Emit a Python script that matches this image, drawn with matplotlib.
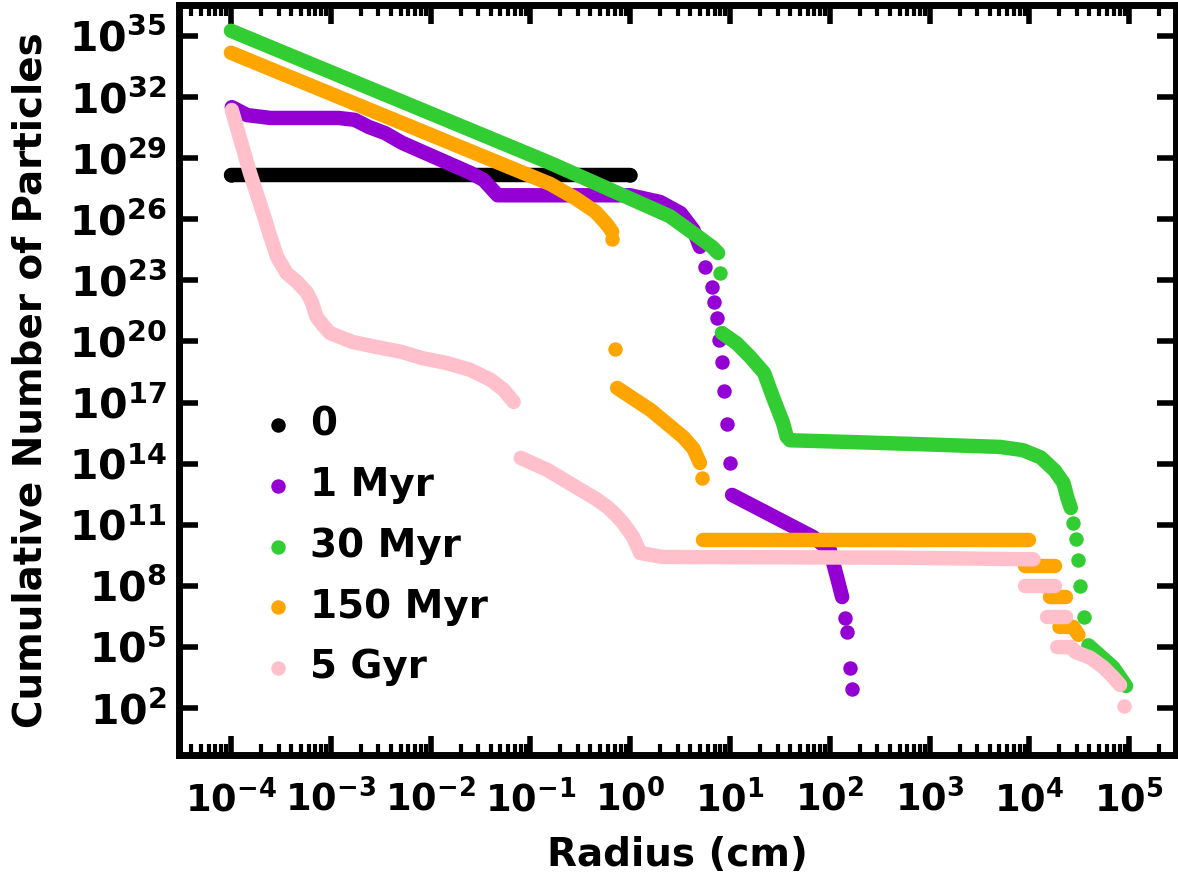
import matplotlib
matplotlib.use('Agg')
import matplotlib.pyplot as plt
from matplotlib.ticker import LogLocator, NullLocator

plt.rcParams['font.family'] = 'DejaVu Sans'
plt.rcParams['font.weight'] = 'bold'
plt.rcParams['axes.labelweight'] = 'bold'
plt.rcParams['mathtext.fontset'] = 'dejavusans'
plt.rcParams['mathtext.default'] = 'bf'
plt.rcParams['axes.unicode_minus'] = False

labels = ['0', '1 Myr', '30 Myr', '150 Myr', '5 Gyr']
colors = ['black', 'darkviolet', 'limegreen', 'orange', 'pink']

# t = 0
t0_bands = [([1e-4, 1.0], [1.5e28, 1.5e28])]
t0_dots_r = [1e-4, 1.0]
t0_dots_n = [1.5e28, 1.5e28]

# 1 Myr
myr1_bands = [
    ([1.02e-4, 1.45e-4, 2.5e-4, 1.2e-3, 1.74e-3, 2.4e-3, 3.5e-3, 5.2e-3, 0.025, 0.034, 0.047,
      1.0, 2.0, 3.2, 4.3, 5.0],
     [3.2e31, 1.3e31, 9.4e30, 9.4e30, 7.6e30, 3.4e30, 1.7e30, 5.6e29, 1.9e28, 8.5e27, 1.5e27,
      1.5e27, 7e26, 2e26, 3e25, 4.4e24]),
    ([10.5, 68, 100, 118, 133], [2.9e12, 2.5e10, 5.7e9, 2.7e8, 2.8e7]),
]
myr1_dots_r = [5.6, 6.6, 6.9, 7.4, 7.8, 8.3, 8.7, 9.3, 10, 142, 149, 159, 167]
myr1_dots_n = [4.6e23, 4.7e22, 8.7e21, 1.4e21, 1.2e20, 9.8e18, 3.7e17, 8.9e15, 1.07e14,
               2.6e6, 5.4e5, 9.1e3, 850]

# 30 Myr
myr30_bands = [
    ([1e-4, 0.158, 2.5, 5.0, 6.6, 7.6], [1.8e35, 5.8e28, 1.4e26, 1.2e25, 4.4e24, 2.2e24]),
    ([8.3, 11.7, 16, 22, 27, 34, 37, 40, 160, 800, 5100, 8.6e3, 1.3e4, 1.8e4, 2.2e4, 2.4e4, 2.6e4],
     [2.6e20, 8e19, 1.7e19, 2.8e18, 1.8e17, 1e16, 2.1e15, 1.4e15, 1.15e15, 9e14, 6.6e14,
      4.6e14, 2e14, 4.5e13, 1.1e13, 2.1e12, 6.6e11]),
    ([3.9e4, 6.9e4, 9.3e4], [1.2e5, 1e4, 1.2e3]),
]
myr30_dots_r = [7.9, 2.75e4, 2.9e4, 3.1e4, 3.2e4, 3.5e4]
myr30_dots_n = [2.3e23, 1.2e11, 2e10, 1.9e9, 9.8e7, 2.9e6]

# 150 Myr
myr150_bands = [
    ([1e-4, 0.158, 0.28, 0.45, 0.59, 0.66], [1.5e34, 5.4e27, 1.1e27, 2.3e26, 5.3e25, 2.4e25]),
    ([0.74, 1.6, 3.4, 4.3, 5.0], [5.2e17, 4.3e16, 2e15, 5.5e14, 1.07e14]),
    ([5.4, 9.8e3], [1.8e10, 1.8e10]),
    ([9.1e3, 1.8e4], [9.3e8, 9.3e8]),
    ([1.6e4, 2.3e4], [2.8e7, 2.8e7]),
    ([2.0e4, 2.75e4, 3.1e4], [9.6e5, 9.6e5, 3.9e5]),
]
myr150_dots_r = [0.66, 0.71, 5.2]
myr150_dots_n = [1.1e25, 4.3e19, 2e13]

# 5 Gyr
gyr5_bands = [
    ([1.02e-4, 1.55e-4, 2.1e-4, 2.45e-4, 2.9e-4, 3.6e-4, 4.6e-4, 5.8e-4, 6.5e-4, 7.2e-4,
      8.3e-4, 9.8e-4, 1.65e-3, 2.9e-3, 5.2e-3, 8.3e-3, 0.0145, 0.025, 0.040, 0.054, 0.068],
     [2.3e31, 1.9e28, 2.0e26, 1.7e25, 1.4e24, 2.3e23, 8.3e22, 2.4e22, 7.8e21, 1.6e21,
      6.5e20, 2.6e20, 9.4e19, 5.3e19, 3e19, 1.5e19, 8.7e18, 4e18, 1.3e18, 4.2e17, 1.07e17]),
    ([0.080, 0.148, 0.32, 0.45, 0.59, 0.72, 0.85, 1.07, 1.26, 2.1, 500, 1.1e4],
     [1.9e14, 4.9e13, 5.1e12, 1.9e12, 7.4e11, 3e11, 1.2e11, 2.5e10, 4.1e9, 2.6e9, 2.4e9, 2.0e9]),
    ([9.1e3, 1.8e4], [9.8e7, 9.8e7]),
    ([1.5e4, 2.3e4], [2.9e6, 2.9e6]),
    ([1.9e4, 2.6e4, 2.9e4, 4.1e4, 5.5e4, 6.9e4, 8.1e4],
     [9.8e4, 9.8e4, 5.6e4, 2.9e4, 1e4, 3.3e3, 1.35e3]),
]
gyr5_dots_r = [8.9e4]
gyr5_dots_n = [126]

series = [
    (t0_bands, t0_dots_r, t0_dots_n),
    (myr1_bands, myr1_dots_r, myr1_dots_n),
    (myr30_bands, myr30_dots_r, myr30_dots_n),
    (myr150_bands, myr150_dots_r, myr150_dots_n),
    (gyr5_bands, gyr5_dots_r, gyr5_dots_n),
]

msize = 10.4  # marker diameter in points

fig = plt.figure(figsize=(11.78, 8.76), dpi=100)
ax = fig.add_axes([0.152, 0.1381, 0.8464, 0.8562])

for (bands, dr, dn), lab, c in zip(series, labels, colors):
    for br, bn in bands:
        ax.plot(br, bn, '-', color=c, lw=msize, solid_capstyle='round',
                solid_joinstyle='round')
    ax.scatter(dr, dn, s=msize ** 2, color=c, linewidths=0, label=lab)

ax.set_xscale('log')
ax.set_yscale('log')
ax.set_xlim(10 ** -4.52, 10 ** 5.47)
ax.set_ylim(10 ** -0.31, 10 ** 36.52)
ax.set_yticks([10.0 ** k for k in range(2, 36, 3)])
ax.yaxis.set_minor_locator(NullLocator())
ax.xaxis.set_major_locator(LogLocator(base=10, numticks=20))
ax.xaxis.set_minor_locator(LogLocator(base=10, subs=range(2, 10), numticks=20))

for sp in ax.spines.values():
    sp.set_linewidth(5)
ax.tick_params(which='major', direction='in', top=True, right=True,
               length=14, width=4, pad=9)
ax.tick_params(which='minor', direction='in', top=True, right=True,
               length=8, width=3)
ax.tick_params(axis='y', which='major', labelsize=29.5)
ax.tick_params(axis='x', which='major', labelsize=26.5, pad=18)

ax.set_xlabel('Radius (cm)', fontsize=28, labelpad=12)
ax.set_ylabel('Cumulative Number of Particles', fontsize=28, labelpad=14)

ax.legend(loc='upper left', bbox_to_anchor=(0.0798, 0.4663), frameon=False,
          fontsize=28, scatterpoints=1, handlelength=1.0, handletextpad=0.32,
          labelspacing=0.586, borderpad=0, borderaxespad=0)

fig.savefig('out.png', dpi=100)
